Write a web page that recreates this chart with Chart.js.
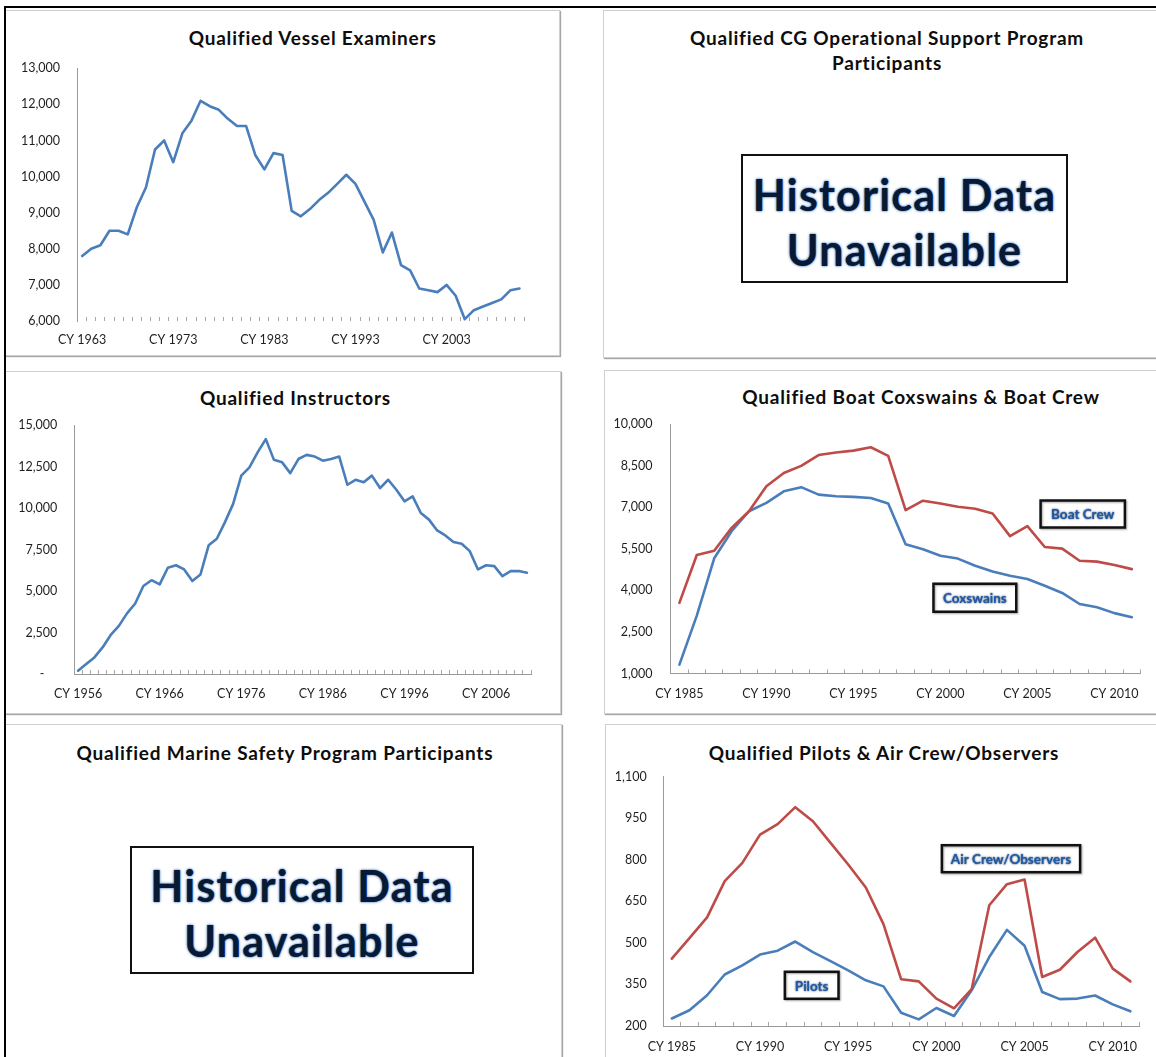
<!DOCTYPE html>
<html><head><meta charset="utf-8">
<script src="https://cdn.jsdelivr.net/npm/chart.js@4.4.1/dist/chart.umd.min.js"></script>
<style>
html,body{margin:0;padding:0;background:#fff;width:1156px;height:1057px;overflow:hidden;font-family:Lato,'Open Sans',sans-serif;}
.panel{position:absolute;border:1px solid #cfcfcf;box-shadow:1px 1px 1px rgba(0,0,0,.35);background:#fff;box-sizing:border-box;}
.frame{position:absolute;background:#000;}
.title{position:absolute;transform:translate(-50%,-50%);font-weight:700;font-size:19px;letter-spacing:0.8px;color:#0d0d0d;white-space:nowrap;text-align:center;line-height:25.6px;}
.na{position:absolute;border:2px solid #111;box-sizing:border-box;display:flex;flex-direction:column;align-items:center;justify-content:center;background:#fff;padding-top:6px;}
.na span{font-weight:700;font-size:43px;letter-spacing:1.2px;line-height:55px;color:#081a33;text-shadow:0 0 3px #3f73c4,0 0 1px #3f73c4;white-space:nowrap;}
canvas{position:absolute;}
</style>
</head><body>
<div class="panel" style="left:5px;top:10px;width:555px;height:346px"></div>
<div class="panel" style="left:603px;top:10px;width:560px;height:348px"></div>
<div class="panel" style="left:5px;top:371px;width:556px;height:343px"></div>
<div class="panel" style="left:604px;top:370px;width:560px;height:344px"></div>
<div class="panel" style="left:5px;top:724px;width:557px;height:340px"></div>
<div class="panel" style="left:605px;top:724px;width:560px;height:340px"></div>

<div class="title" style="left:312.6px;top:37.7px">Qualified Vessel Examiners</div>
<div class="title" style="left:887px;top:50.5px">Qualified CG Operational Support Program<br>Participants</div>
<div class="title" style="left:295.4px;top:398.3px">Qualified Instructors</div>
<div class="title" style="left:921px;top:396.7px">Qualified Boat Coxswains &amp; Boat Crew</div>
<div class="title" style="left:284.9px;top:753.3px">Qualified Marine Safety Program Participants</div>
<div class="title" style="left:884px;top:753.3px">Qualified Pilots &amp; Air Crew/Observers</div>

<div class="na" style="left:741px;top:154px;width:327px;height:129px"><span>Historical Data</span><span>Unavailable</span></div>
<div class="na" style="left:130px;top:846px;width:344px;height:128px"><span>Historical Data</span><span>Unavailable</span></div>

<canvas id="c1" width="553" height="344" style="left:6px;top:11px"></canvas>
<canvas id="c3" width="554" height="341" style="left:6px;top:372px"></canvas>
<canvas id="c4" width="551" height="342" style="left:605px;top:371px"></canvas>
<canvas id="c6" width="550" height="332" style="left:606px;top:725px"></canvas>

<div class="frame" style="left:4px;top:6px;width:1152px;height:2px"></div>
<div class="frame" style="left:4px;top:6px;width:2px;height:1051px"></div>

<script>
// ---------- DATA ----------
const vesselYears = ['CY 1963','CY 1964','CY 1965','CY 1966','CY 1967','CY 1968','CY 1969','CY 1970','CY 1971','CY 1972',
  'CY 1973','CY 1974','CY 1975','CY 1976','CY 1977','CY 1978','CY 1979','CY 1980','CY 1981','CY 1982',
  'CY 1983','CY 1984','CY 1985','CY 1986','CY 1987','CY 1988','CY 1989','CY 1990','CY 1991','CY 1992',
  'CY 1993','CY 1994','CY 1995','CY 1996','CY 1997','CY 1998','CY 1999','CY 2000','CY 2001','CY 2002',
  'CY 2003','CY 2004','CY 2005','CY 2006','CY 2007','CY 2008','CY 2009','CY 2010','CY 2011'];
const vesselExaminers = [7800,8000,8100,8500,8500,8400,9150,9700,10750,11000,
  10400,11200,11550,12100,11950,11850,11600,11400,11400,10600,
  10200,10650,10600,9050,8900,9100,9350,9550,9800,10050,
  9800,9300,8800,7900,8450,7550,7400,6900,6850,6800,
  7000,6700,6050,6300,6400,6500,6600,6850,6900];
const vesselTickLabels = ['CY 1963','CY 1973','CY 1983','CY 1993','CY 2003'];

const instructorYears = ['CY 1956','CY 1957','CY 1958','CY 1959','CY 1960','CY 1961','CY 1962','CY 1963','CY 1964','CY 1965',
  'CY 1966','CY 1967','CY 1968','CY 1969','CY 1970','CY 1971','CY 1972','CY 1973','CY 1974','CY 1975',
  'CY 1976','CY 1977','CY 1978','CY 1979','CY 1980','CY 1981','CY 1982','CY 1983','CY 1984','CY 1985',
  'CY 1986','CY 1987','CY 1988','CY 1989','CY 1990','CY 1991','CY 1992','CY 1993','CY 1994','CY 1995',
  'CY 1996','CY 1997','CY 1998','CY 1999','CY 2000','CY 2001','CY 2002','CY 2003','CY 2004','CY 2005',
  'CY 2006','CY 2007','CY 2008','CY 2009','CY 2010','CY 2011'];
const instructors = [200,600,1000,1600,2350,2900,3650,4250,5300,5650,
  5400,6400,6550,6300,5600,6000,7750,8150,9150,10250,
  11950,12450,13350,14150,12900,12750,12100,12950,13200,13100,
  12850,12950,13100,11400,11700,11550,11950,11200,11700,11100,
  10400,10700,9700,9300,8650,8350,7950,7850,7400,6300,
  6550,6500,5900,6200,6200,6100];
const instructorTickLabels = ['CY 1956','CY 1966','CY 1976','CY 1986','CY 1996','CY 2006'];

const recentYears = ['CY 1985','CY 1986','CY 1987','CY 1988','CY 1989','CY 1990','CY 1991','CY 1992','CY 1993','CY 1994',
  'CY 1995','CY 1996','CY 1997','CY 1998','CY 1999','CY 2000','CY 2001','CY 2002','CY 2003','CY 2004',
  'CY 2005','CY 2006','CY 2007','CY 2008','CY 2009','CY 2010','CY 2011'];
const recentTickLabels = ['CY 1985','CY 1990','CY 1995','CY 2000','CY 2005','CY 2010'];

const boatCrew = [3550,5280,5430,6260,6860,7760,8240,8500,8890,8980,
  9050,9170,8860,6900,7240,7140,7020,6950,6780,5960,
  6320,5570,5510,5070,5040,4920,4770];
const coxswains = [1320,3090,5160,6140,6860,7160,7580,7730,7460,7400,
  7380,7340,7140,5670,5490,5250,5150,4890,4680,4530,
  4410,4170,3910,3510,3390,3180,3030];

const airCrew = [443,517,592,723,789,891,929,990,939,861,
  783,700,568,369,361,299,264,333,636,712,
  729,377,403,467,519,407,361];
const pilots = [227,257,311,386,419,458,472,505,467,434,
  401,365,343,248,224,265,236,329,449,547,
  490,323,297,299,310,278,253];

// ---------- STYLE / RENDER ----------
const BLUE = '#4a7ebb', RED = '#be4b48';
const FONT = 'Lato';
Chart.defaults.font.family = FONT;
Chart.defaults.animation = false;

const calloutPlugin = {
  id: 'callouts',
  afterDatasetsDraw(chart, args, opts) {
    const items = (opts && opts.items) || [];
    const ctx = chart.ctx, xs = chart.scales.x, ys = chart.scales.y;
    items.forEach(it => {
      const cx = xs.getPixelForValue(it.at);
      const cy = ys.getPixelForValue(it.value);
      ctx.save();
      ctx.font = 'bold 13.5px ' + FONT;
      const tw = ctx.measureText(it.text).width;
      const w = tw + 2 * it.padX, h = it.h;
      ctx.fillStyle = '#fff';
      ctx.fillRect(cx - w / 2, cy - h / 2, w, h);
      ctx.lineWidth = 2.5;
      ctx.strokeStyle = '#111';
      ctx.shadowColor = 'rgba(0,0,0,0.35)';
      ctx.shadowBlur = 2; ctx.shadowOffsetX = 1; ctx.shadowOffsetY = 1;
      ctx.strokeRect(cx - w / 2, cy - h / 2, w, h);
      ctx.shadowColor = '#0b2346'; ctx.shadowBlur = 2; ctx.shadowOffsetX = 0; ctx.shadowOffsetY = 0;
      ctx.fillStyle = '#1f5aa8';
      ctx.textAlign = 'center'; ctx.textBaseline = 'middle';
      ctx.fillText(it.text, cx, cy + 1);
      ctx.restore();
    });
  }
};

function fmt(v) { return v === 0 ? '-    ' : Number(v).toLocaleString('en-US'); }

function makeChart(id, c) {
  const tickFont = { family: FONT, size: 12.5 };
  return new Chart(document.getElementById(id), {
    type: 'line',
    data: {
      labels: c.labels,
      datasets: c.series.map(s => ({
        data: s.data, borderColor: s.color, borderWidth: 2.6, pointRadius: 0,
        tension: 0, fill: false, borderJoinStyle: 'round', borderCapStyle: 'round'
      }))
    },
    options: {
      responsive: false, maintainAspectRatio: false, animation: false,
      layout: { padding: { left: 0, top: c.padTop, right: c.padRight, bottom: 0 } },
      plugins: { legend: { display: false }, tooltip: { enabled: false }, title: { display: false },
        callouts: { items: c.callouts || [] } },
      scales: {
        x: {
          type: 'category', offset: true,
          grid: { display: true, drawOnChartArea: false, drawTicks: true, tickLength: -4, offset: true, color: '#a6a6a6', lineWidth: 1 },
          border: { display: c.xBorder, color: '#9a9a9a', width: 1 },
          ticks: { autoSkip: false, maxRotation: 0, minRotation: 0, padding: c.xPad, font: tickFont, color: '#1f1f1f',
            callback: function (v, i) { const l = this.getLabelForValue(v); return c.shown.includes(l) ? l : ''; } },
          afterFit: s => { s.height = c.xHeight; }
        },
        y: {
          type: 'linear', min: c.yMin, max: c.yMax,
          grid: { display: false, drawTicks: false },
          border: { display: true, color: '#9a9a9a', width: 1 },
          ticks: { stepSize: c.yStep, padding: c.yPad, font: tickFont, color: '#1f1f1f', callback: v => fmt(v) },
          afterFit: s => { s.width = c.yWidth; }
        }
      }
    },
    plugins: [calloutPlugin]
  });
}

makeChart('c1', {
  labels: vesselYears, shown: vesselTickLabels,
  series: [{ data: vesselExaminers, color: BLUE }],
  yMin: 6000, yMax: 13000, yStep: 1000,
  yWidth: 71.6, xHeight: 34, padTop: 57.3, padRight: 35, yPad: 17.6, xPad: 15.5, xBorder: false
});

makeChart('c3', {
  labels: instructorYears, shown: instructorTickLabels,
  series: [{ data: instructors, color: BLUE }],
  yMin: 0, yMax: 15000, yStep: 2500,
  yWidth: 68, xHeight: 39, padTop: 53, padRight: 29, yPad: 16.7, xPad: 16.8, xBorder: true
});

makeChart('c4', {
  labels: recentYears, shown: recentTickLabels,
  series: [{ data: boatCrew, color: RED }, { data: coxswains, color: BLUE }],
  yMin: 1000, yMax: 10000, yStep: 1500,
  yWidth: 65.7, xHeight: 39.5, padTop: 53.3, padRight: 15.5, yPad: 18.2, xPad: 17.3, xBorder: true,
  callouts: [
    { text: 'Boat Crew', at: 23.18, value: 6760, padX: 10.5, h: 27 },
    { text: 'Coxswains', at: 16.98, value: 3736, padX: 9.5, h: 28 }
  ]
});

makeChart('c6', {
  labels: recentYears, shown: recentTickLabels,
  series: [{ data: airCrew, color: RED }, { data: pilots, color: BLUE }],
  yMin: 200, yMax: 1100, yStep: 150,
  yWidth: 57, xHeight: 31, padTop: 51.7, padRight: 16.8, yPad: 16.3, xPad: 17.8, xBorder: true,
  callouts: [
    { text: 'Air Crew/Observers', at: 19.23, value: 804, padX: 9, h: 27 },
    { text: 'Pilots', at: 7.93, value: 347, padX: 10, h: 27 }
  ]
});
</script>
</body></html>
